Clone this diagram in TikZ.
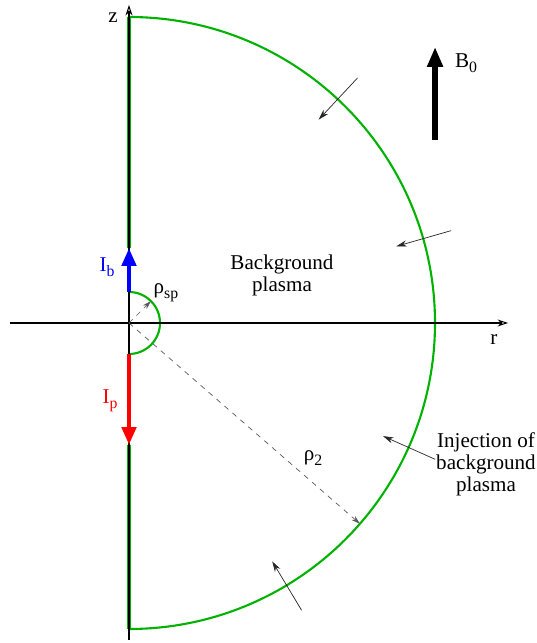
\documentclass[tikz,border=0pt]{standalone}
\usepackage{fontspec}
\setmainfont{Liberation Serif}
\usetikzlibrary{arrows.meta, positioning}
\definecolor{wallgreen}{RGB}{0,178,0}
\newcommand{\lowsub}[1]{\raisebox{-3pt}{\fontsize{9}{9}\selectfont #1}}

\begin{document}
\begin{tikzpicture}[
  scale=0.02,
  font=\fontsize{12}{12.5}\selectfont,
  axis/.style={line width=0.6pt, -{Stealth[length=6pt, width=4pt, open]}},
  wall/.style={draw=wallgreen, line width=1.2pt},
  rod/.style={draw=wallgreen, line width=2.3pt},
  currentarrow/.style={line width=2.8pt, -{Triangle[length=0.36cm, width=0.28cm]}},
  fieldarrow/.style={line width=3.4pt, -{Triangle[length=0.4cm, width=0.3cm]}},
  spoke/.style={gray!70!black, dashed, line width=0.4pt, -{Stealth[length=5pt, width=3pt]}},
  inflow/.style={gray!30!black, line width=0.4pt, -{Stealth[length=6pt, width=3.5pt]}},
  lbl/.style={align=center, inner sep=1pt},
]
  \useasboundingbox (-129,-320) rectangle (407,323);

  % boundary
  \draw[rod] (0,75) -- (0,306);
  \draw[rod] (0,-122) -- (0,-306);
  \draw[wall] (0,306) arc[start angle=90, end angle=-90, radius=306];
  \draw[wall] (0,31) arc[start angle=90, end angle=-90, radius=31];

  % axes
  \coordinate (O) at (0,0);
  \coordinate (zbot) at (0,-317);
  \coordinate (ztop) at (0,318);
  \coordinate (rleft) at (-119,0);
  \coordinate (rright) at (379,0);
  \draw[axis] (zbot) -- (ztop);
  \draw[axis] (rleft) -- (rright);
  \node (zlbl) at (-16,305) {z};
  \node (rlbl) at (365,-17) {r};

  % currents
  \coordinate (Ibtail) at (0,31);
  \coordinate (Ibhead) at (0,75);
  \coordinate (Iptail) at (0,-31);
  \coordinate (Iphead) at (0,-122);
  \draw[currentarrow, blue] (Ibtail) -- (Ibhead);
  \draw[currentarrow, red] (Iptail) -- (Iphead);
  \node[blue] (Iblbl) at (-22,56) {I\lowsub{b}};
  \node[red] (Iplbl) at (-19,-78) {I\lowsub{p}};

  % radii
  \coordinate (sp) at (45:31);
  \coordinate (rim) at (-41:306);
  \draw[spoke] (O) -- (sp);
  \draw[spoke] (O) -- (rim);
  \node (rhosplbl) at (37,30) {ρ\lowsub{sp}};
  \node (rho2lbl) at (184,-135) {ρ\lowsub{2}};

  % magnetic field
  \coordinate (Bfoot) at (306,183);
  \coordinate (Bhead) at (306,276);
  \draw[fieldarrow] (Bfoot) -- (Bhead);
  \node (Blbl) at (337,260) {B\lowsub{0}};

  % injection
  \foreach \a [count=\i] in {47,16,-24,-59} {
    \coordinate (in\i) at (\a:335);
    \coordinate (out\i) at (\a:278);
    \draw[inflow] (in\i) -- (out\i);
  }
  \node[lbl] (bglbl) at (153,48) {Background\\plasma};
  \node[lbl] (injlbl) at (357,-141) {Injection of\\background\\plasma};
\end{tikzpicture}
\end{document}
